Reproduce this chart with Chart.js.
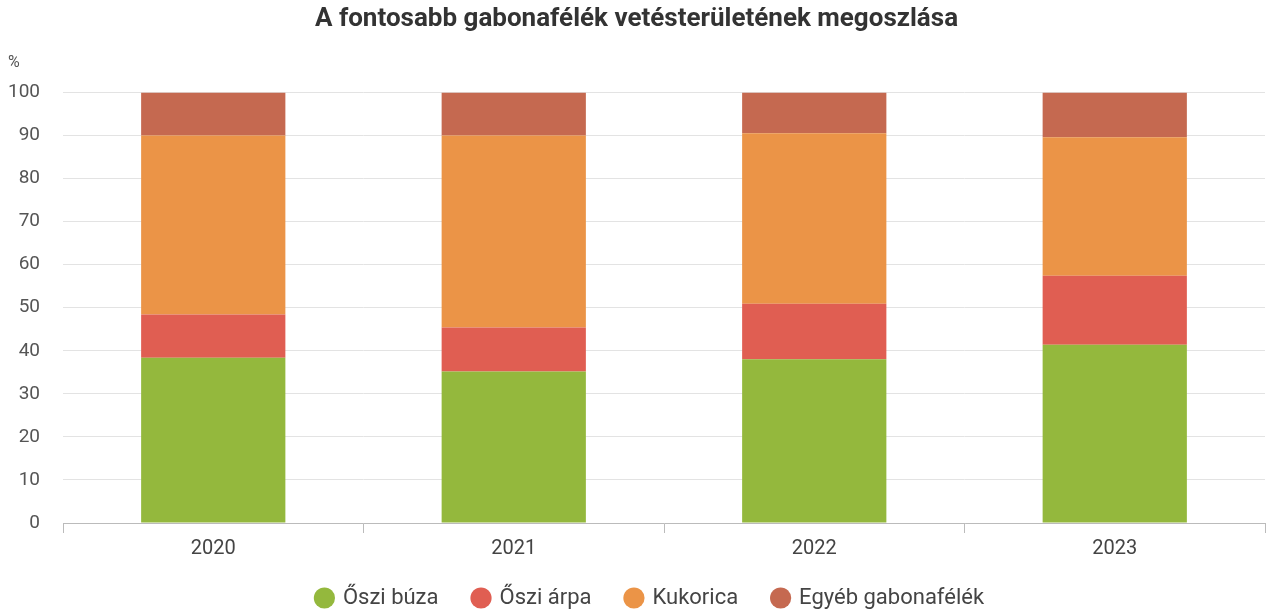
<!DOCTYPE html>
<html>
<head>
<meta charset="utf-8">
<script src="https://cdn.jsdelivr.net/npm/chart.js@4"></script>
<style>
  body { margin: 0; background: #fff; }
  #wrap { width: 1269px; height: 611px; }
</style>
</head>
<body>
<div id="wrap"><canvas id="myChart"></canvas></div>
<script>
const years = ['2020', '2021', '2022', '2023'];
const oszibuza = [38.4, 35.2, 38.0, 41.4];
const osziarpa = [10.0, 10.2, 12.9, 16.0];
const kukorica = [41.6, 44.6, 39.6, 32.2];
const egyeb = [10.0, 10.0, 9.5, 10.4];
const yTicks = [0, 10, 20, 30, 40, 50, 60, 70, 80, 90, 100];

Chart.defaults.font.family = 'Roboto, "Liberation Sans", sans-serif';
Chart.defaults.color = '#555';

const data = {
    labels: years,
    datasets: [
        { label: 'Őszi búza', data: oszibuza, backgroundColor: '#94b83d' },
        { label: 'Őszi árpa', data: osziarpa, backgroundColor: '#e05e52' },
        { label: 'Kukorica', data: kukorica, backgroundColor: '#eb9447' },
        { label: 'Egyéb gabonafélék', data: egyeb, backgroundColor: '#c56950' }
    ]
}

// keep the legend box short so the x axis sits lower, then let it start a bit higher
const legendHeight = {
    id: 'legendHeight',
    beforeLayout(chart) {
        const lg = chart.legend;
        if (lg && !lg._patched) {
            const fit = lg.fit;
            lg.fit = function () {
                fit.call(this);
                this.height = 46;
            };
            lg._patched = true;
        }
    },
    afterLayout(chart) {
        const lg = chart.legend;
        if (lg) {
            lg.top -= 13;
            lg.height = lg.bottom - lg.top;
            lg.left += 14;
            lg.right += 14;
        }
    }
}

const config = {
    type: 'bar',
    data: data,
    plugins: [legendHeight],
    options: {
        responsive: true,
        maintainAspectRatio: false,
        animation: false,
        layout: { padding: { left: 8, right: 4, bottom: 0 } },
        datasets: { bar: { barPercentage: 0.6, categoryPercentage: 0.8 } },
        plugins: {
            title: {
                display: true,
                text: 'A fontosabb gabonafélék vetésterületének megoszlása',
                color: '#333',
                font: { size: 26, weight: 'bold' },
                padding: { top: 4, bottom: 18 }
            },
            subtitle: {
                display: true,
                text: '%',
                align: 'start',
                color: '#555',
                font: { size: 16 },
                padding: { bottom: 20 }
            },
            legend: {
                position: 'bottom',
                labels: {
                    usePointStyle: true,
                    pointStyle: 'circle',
                    boxWidth: 15,
                    boxHeight: 15,
                    padding: 35,
                    color: '#444',
                    font: { size: 22 }
                }
            },
            tooltip: { enabled: false }
        },
        scales: {
            x: {
                stacked: true,
                grid: { display: true, drawOnChartArea: false, drawTicks: true, tickLength: 10, color: '#bbb' },
                border: { color: '#bbb' },
                ticks: { font: { size: 20 }, color: '#444', padding: 4 }
            },
            y: {
                stacked: true,
                min: 0,
                max: 100,
                afterBuildTicks: axis => { axis.ticks = yTicks.map(v => ({ value: v })); },
                afterFit: axis => { axis.width = 55; },
                grid: { color: '#e3e3e3', drawTicks: false },
                border: { display: false },
                ticks: { font: { size: 19 }, color: '#555', padding: 23 }
            }
        }
    }
}

let chart = new Chart(document.getElementById('myChart'), config);
</script>
</body>
</html>
